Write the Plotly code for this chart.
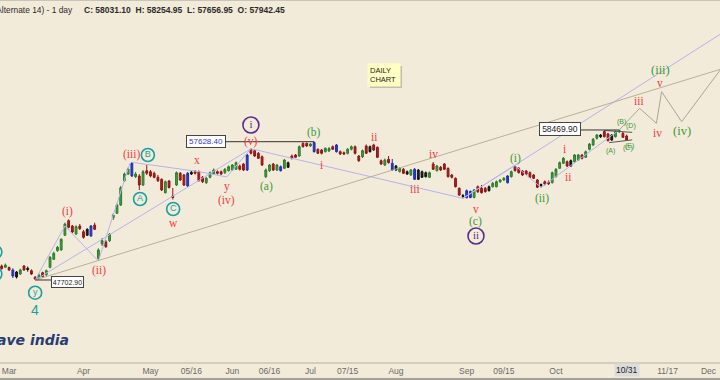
import plotly.graph_objects as go

# ---------------- data ----------------
opens = [48707, 48614, 48600, 48420, 48277, 48133, 48707, 48543, 48370, 47896,
         47825, 48226, 48083, 48614, 49188, 49806, 49856, 50911, 51958, 51578,
         51004, 51578, 51169, 50911, 50860, 51650, 49260, 50286, 50430, 50523,
         52173, 52489, 53085, 54829, 55310, 55166, 55116, 55166, 54520, 55547,
         55475, 55360, 55073, 54929, 53968, 54808, 53731, 54520, 55360, 55238,
         54448, 55432, 55475, 55475, 55073, 54686, 55073, 55310, 55475, 55475,
         55403, 55547, 55597, 55647, 55884, 56028, 55597, 57083, 56982, 56796,
         56552, 55116, 55547, 56028, 55597, 55834, 55719, 56121, 56602, 56674,
         56602, 57513, 57513, 57320, 57571, 57083, 57032, 56910, 56961, 57270,
         57392, 56910, 56839, 56796, 57083, 57270, 56602, 56552, 57320, 57270,
         57392, 57226, 56265, 55956, 56365, 56078, 55884, 55475, 55647, 55475,
         55238, 55647, 55597, 55475, 55403, 55073, 56028, 55547, 55791, 56028,
         55719, 55238, 55001, 54284, 53767, 53600, 54054, 53623, 54398, 54284,
         54284, 54112, 54398, 54398, 54757, 54879, 54686, 55116, 55834, 55719,
         55525, 55525, 55403, 55238, 54879, 54556, 54757, 54720, 54686, 55116,
         55719, 56078, 56193, 55884, 56193, 56315, 56674, 56509, 57083, 57392,
         57872, 58109, 58360, 58181, 57750, 57987, 58346, 58231, 58037]
highs = [48815, 48887, 48671, 48543, 48348, 48513, 48779, 48664, 48470, 47989,
         48183, 48298, 48456, 49425, 49733, 50143, 50695, 51815, 52059, 51650,
         51628, 51722, 51291, 51413, 51650, 51815, 49978, 50717, 50573, 51076,
         52475, 53193, 54449, 55418, 55777, 56150, 55454, 55310, 55597, 55956,
         55597, 55475, 55238, 55001, 54843, 54879, 54305, 55490, 55454, 55310,
         55454, 55525, 55597, 55561, 55166, 55095, 55490, 55705, 55561, 55561,
         55741, 55920, 56028, 56207, 55992, 56100, 56745, 57126, 57032, 56889,
         56638, 55705, 56028, 56100, 56028, 55920, 56387, 56207, 56710, 56745,
         57356, 57571, 57571, 57535, 57628.40, 57140, 57104, 57212, 57248, 57356,
         57463, 56997, 56925, 57176, 57356, 57356, 56674, 57068, 57427, 57356,
         57478, 57284, 56351, 56422, 56602, 56387, 55956, 55812, 55741, 55561,
         55669, 55741, 55669, 55561, 55490, 55490, 56171, 55956, 55884, 56100,
         55777, 55310, 55059, 54341, 53875, 54198, 54126, 54234, 54485, 54520,
         54377, 54485, 54736, 54843, 54951, 55095, 55238, 55561, 55920, 55812,
         55597, 55597, 55490, 55310, 54951, 54628, 54843, 54843, 55490, 55741,
         56207, 56530, 56279, 56351, 56745, 56745, 56745, 56997, 57535, 57894,
         58181, 58181, 58432, 58253, 58181, 58432, 58469.90, 58325, 58145]
lows = [48456, 48564, 48348, 47846, 47810, 48061, 48370, 48298, 48061, 47702.90,
        47753, 47896, 47989, 48543, 49138, 49733, 49806, 50860, 51413, 51054,
        50932, 51291, 50667, 50860, 50810, 51291, 49066, 50143, 50000, 50430,
        52009, 52439, 53013, 54736, 55238, 55095, 55023, 54162, 54448, 55238,
        55073, 55001, 54736, 54090, 53910, 54269, 53480, 54448, 54808, 54448,
        54377, 55238, 55274, 54772, 54664, 54592, 55001, 55238, 55274, 55238,
        55310, 55490, 55525, 55597, 55561, 55525, 55525, 56710, 56530, 56387,
        55884, 55023, 55454, 55525, 55525, 55490, 55669, 55741, 56351, 56459,
        56530, 57212, 57248, 57248, 56853, 56746, 56710, 56853, 56889, 57032,
        56853, 56674, 56674, 56710, 56997, 56710, 56171, 56458, 56746, 56853,
        56961, 56458, 55956, 55884, 56064, 55525, 55525, 55418, 55310, 55238,
        55166, 54879, 54879, 55023, 55059, 55023, 55597, 55490, 55525, 55597,
        55059, 54987, 54341, 53731, 53552, 53580, 53573, 53566, 53947, 53910,
        53982, 54054, 54341, 54341, 54664, 54808, 54628, 55059, 55490, 55346,
        55166, 55238, 55023, 54949, 54305, 54341, 54485, 54520, 54628, 55059,
        55669, 56028, 55812, 55812, 56135, 56243, 56351, 56458, 56997, 57320,
        57786, 57894, 57930, 57642, 57678, 57930, 58253, 57894, 57678]
closes = [48513, 48779, 48420, 47989, 47918, 48420, 48420, 48456, 48133, 47774,
          48061, 47939, 48370, 49331, 49619, 50050, 50623, 51722, 51485, 51148,
          51528, 51384, 50767, 51341, 51578, 51341, 49856, 50523, 50092, 50982,
          52367, 53085, 54327, 55310, 55669, 56078, 55310, 54520, 55475, 55360,
          55166, 55073, 54829, 54162, 54757, 54341, 53623, 55403, 54879, 54520,
          55360, 55310, 55360, 54829, 54757, 55001, 55403, 55597, 55360, 55310,
          55647, 55834, 55956, 56121, 55647, 55597, 56674, 56796, 56602, 56437,
          55956, 55597, 55956, 55597, 55956, 55547, 56315, 55791, 56437, 56509,
          57270, 57270, 57320, 57463, 56910, 56796, 56796, 57155, 57140, 57083,
          56910, 56745, 56745, 57083, 57270, 56796, 56265, 56982, 56796, 56910,
          57032, 56509, 56028, 56315, 56121, 55597, 55597, 55719, 55360, 55310,
          55597, 54929, 54929, 55073, 55116, 55403, 55647, 55884, 55597, 55647,
          55116, 55073, 54399, 53803, 53695, 54112, 53623, 54162, 54040, 53968,
          54040, 54398, 54642, 54757, 54879, 55001, 55166, 55475, 55547, 55403,
          55238, 55288, 55073, 55001, 54355, 54485, 54592, 54600, 55403, 55647,
          56121, 56437, 55884, 56265, 56674, 56674, 56437, 56910, 57463, 57801,
          58109, 57987, 57987, 57700, 58109, 58346, 58432, 57944, 57750]
day_index = list(range(len(opens)))

# candles drawn in blue / black in the picture
blue_days = [3, 24, 35, 50, 66, 75, 84, 90, 105, 111, 125, 126, 136]
black_days = [4, 7, 23, 51, 77, 99, 106, 109, 112, 113, 114, 124, 131, 145, 153, 161, 164]

tick_pos = [2, 22, 40, 51, 62, 72, 83, 93, 106, 125, 135, 149, 168, 179, 190]
tick_labels = ["Mar", "Apr", "May", "05/16", "Jun", "06/16", "Jul", "07/15",
               "Aug", "Sep", "09/15", "Oct", "10/31", "11/17", "Dec"]
current_label = "10/31"

header_name = "Bank Nifty (Alternate 14) - 1 day"
header_ohlc = "C: 58031.10&nbsp;&nbsp;H: 58254.95&nbsp;&nbsp;L: 57656.95&nbsp;&nbsp;O: 57942.45"

low_price, low_day = 47702.90, 9
june_high, june_day = 57628.40, 84
oct_high, oct_day = 58469.90, 166

# wave connection lines (day index, price)
wave_lines = [
    ([9, 17, 26, 34.5], [47702.9, 51580, 49066, 56100]),
    ([35, 52.5], [56150, 55500]),
    ([52.5, 60.5, 67], [55500, 55100, 57126]),
    ([9, 67], [47702.9, 57126]),
    ([67, 124], [57126, 53566]),
    ([124, 138, 145], [53566, 55920, 54341]),
    ([145, 166], [54341, 58469.9]),
    ([124, 193.5], [53566, 65400]),
]
trend_line = ([9, 193.5], [47702.9, 62850])
projection = ([166, 171.5, 176, 177.4, 182.8, 193.5], [58470, 60024, 58948, 61217, 59064, 62896])
triangle_upper = ([162, 169.5], [58432, 58300])
triangle_lower = ([163.3, 169.5], [57560, 57760])

# wave labels: text, day, price
red_labels = [("(i)", 17.8, 52583), ("(ii)", 26.2, 48420), ("(iii)", 34.8, 56674),
              ("w", 46.1, 51793), ("x", 52.5, 56315), ("y", 60.5, 54398),
              ("(iv)", 60.5, 53444), ("(v)", 67, 57628), ("i", 86, 55956),
              ("ii", 100.2, 57944), ("iii", 111.1, 54212), ("iv", 116, 56746),
              ("v", 127.5, 52834), ("i", 151.2, 57104), ("ii", 152.2, 55116),
              ("iii", 171.3, 60549), ("v", 177, 61862), ("iv", 176.3, 58231)]
green_labels = [("(b)", 84, 58274), ("(a)", 71.1, 54398), ("(c)", 127.5, 51937),
                ("(i)", 138.2, 56437), ("(ii)", 145.2, 53516)]
green_big_labels = [("(iii)", 177, 62774), ("(iv)", 182.8, 58396)]
small_labels = [("(A)", 163.7, 56961), ("(B)", 166.5, 59020), ("(D)", 169.2, 58755),
                ("(C)", 168.4, 57198), ("(E)", 168.8, 57300)]
teal_circles = [("A", 37.2, 53516), ("B", 39.3, 56674), ("C", 46.1, 52798), ("y", 9, 46791)]
teal_edge_circles = [(-1.7, 49712), (-1.7, 48133)]
purple_circles = [("i", 67, 58827), ("ii", 127.5, 50860)]
degree_label = ("4", 9, 45549)

# ---------------- styling ----------------
BG = "#f3ebd9"
RED = "#f23a45"
GREEN = "#3a9a3a"
TEAL = "#1a9f9f"
PURPLE = "#5b2c8c"
LAV = "#b4b4ee"
SERIF = "Liberation Serif"
SANS = "Liberation Sans"

fig = go.Figure()


def pick(arr, ids):
    return [arr[i] for i in ids]


special = set(blue_days) | set(black_days)
main_days = [i for i in day_index if i not in special]

# lines (drawn below candles)
for xs, ys in wave_lines:
    fig.add_trace(go.Scatter(x=xs, y=ys, mode="lines", line=dict(color=LAV, width=1),
                             hoverinfo="skip"))
fig.add_trace(go.Scatter(x=trend_line[0], y=trend_line[1], mode="lines",
                         line=dict(color="#b9af9d", width=1), hoverinfo="skip"))
fig.add_trace(go.Scatter(x=projection[0], y=projection[1], mode="lines",
                         line=dict(color="#a9a49b", width=1), hoverinfo="skip"))
for xs, ys in (triangle_upper, triangle_lower):
    fig.add_trace(go.Scatter(x=xs, y=ys, mode="lines", line=dict(color="#555555", width=1),
                             hoverinfo="skip"))

# horizontal price-label connectors
fig.add_trace(go.Scatter(x=[60.3, june_day], y=[june_high, june_high], mode="lines",
                         line=dict(color="#333333", width=1), hoverinfo="skip"))
fig.add_trace(go.Scatter(x=[155.7, oct_day], y=[oct_high, oct_high], mode="lines",
                         line=dict(color="#333333", width=1), hoverinfo="skip"))
fig.add_trace(go.Scatter(x=[low_day, 13.3], y=[low_price, low_price], mode="lines",
                         line=dict(color="#333333", width=1), hoverinfo="skip"))

# candles
fig.add_trace(go.Candlestick(
    x=main_days, open=pick(opens, main_days), high=pick(highs, main_days),
    low=pick(lows, main_days), close=pick(closes, main_days),
    increasing=dict(line=dict(color="#2c7a2c", width=1), fillcolor="#3fa33f"),
    decreasing=dict(line=dict(color="#8e1616", width=1), fillcolor="#b31f1f"),
    whiskerwidth=0, hoverinfo="skip"))
fig.add_trace(go.Candlestick(
    x=blue_days, open=pick(opens, blue_days), high=pick(highs, blue_days),
    low=pick(lows, blue_days), close=pick(closes, blue_days),
    increasing=dict(line=dict(color="#1f2fb0", width=1), fillcolor="#2b3bd0"),
    decreasing=dict(line=dict(color="#1f2fb0", width=1), fillcolor="#2b3bd0"),
    whiskerwidth=0, hoverinfo="skip"))
fig.add_trace(go.Candlestick(
    x=black_days, open=pick(opens, black_days), high=pick(highs, black_days),
    low=pick(lows, black_days), close=pick(closes, black_days),
    increasing=dict(line=dict(color="#111111", width=1), fillcolor="#222222"),
    decreasing=dict(line=dict(color="#111111", width=1), fillcolor="#222222"),
    whiskerwidth=0, hoverinfo="skip"))

# circled labels
fig.add_trace(go.Scatter(
    x=[c[1] for c in teal_circles], y=[c[2] for c in teal_circles],
    text=[c[0] for c in teal_circles], mode="markers+text", textposition="middle center",
    textfont=dict(family=SANS, size=9, color=TEAL),
    marker=dict(symbol="circle-open", size=13, color=TEAL, line=dict(width=1.6, color=TEAL)),
    hoverinfo="skip"))
fig.add_trace(go.Scatter(
    x=[c[0] for c in teal_edge_circles], y=[c[1] for c in teal_edge_circles],
    mode="markers", marker=dict(symbol="circle-open", size=13, color=TEAL,
                                line=dict(width=1.6, color=TEAL)), hoverinfo="skip"))
fig.add_trace(go.Scatter(
    x=[c[1] for c in purple_circles], y=[c[2] for c in purple_circles],
    text=[c[0] for c in purple_circles], mode="markers+text", textposition="middle center",
    textfont=dict(family=SERIF, size=11, color=PURPLE),
    marker=dict(symbol="circle-open", size=16, color=PURPLE, line=dict(width=1.6, color=PURPLE)),
    hoverinfo="skip"))

# text labels
for t, xd, yp in red_labels:
    fig.add_annotation(x=xd, y=yp, text=t, showarrow=False,
                       font=dict(family=SERIF, size=11.5, color=RED))
for t, xd, yp in green_labels:
    fig.add_annotation(x=xd, y=yp, text=t, showarrow=False,
                       font=dict(family=SERIF, size=11.5, color=GREEN))
for t, xd, yp in green_big_labels:
    fig.add_annotation(x=xd, y=yp, text=t, showarrow=False,
                       font=dict(family=SERIF, size=12.5, color=GREEN))
for t, xd, yp in small_labels:
    fig.add_annotation(x=xd, y=yp, text=t, showarrow=False,
                       font=dict(family=SANS, size=7, color=GREEN))
fig.add_annotation(x=degree_label[1], y=degree_label[2], text=degree_label[0], showarrow=False,
                   font=dict(family=SANS, size=14, color=TEAL))

# price boxes
fig.add_annotation(x=54.9, y=june_high, text=f"{june_high:.2f}", showarrow=False,
                   font=dict(family=SANS, size=8, color="#3434d8"), bgcolor="white",
                   bordercolor="#444444", borderwidth=1, borderpad=1, width=36, height=9)
fig.add_annotation(x=150.1, y=oct_high + 35, text=f"{oct_high:.2f}", showarrow=False,
                   font=dict(family=SANS, size=8.5, color="#222222"), bgcolor="white",
                   bordercolor="#444444", borderwidth=1, borderpad=1, width=38, height=10)
fig.add_annotation(x=17.7, y=low_price - 120, text=f"{low_price:.2f}", showarrow=False,
                   font=dict(family=SANS, size=7, color="#222222"), bgcolor="white",
                   bordercolor="#444444", borderwidth=1, borderpad=1, width=29, height=8)

# DAILY CHART note with shadow
fig.add_shape(type="rect", xref="paper", yref="paper",
              x0=370 / 720, x1=402 / 720, y0=1 - 88 / 362, y1=1 - 66 / 362,
              fillcolor="#c4bcae", line=dict(width=0), layer="above")
fig.add_annotation(xref="paper", yref="paper", x=367 / 720, y=1 - 63 / 362,
                   xanchor="left", yanchor="top", text="DAILY<br>CHART", align="left",
                   showarrow=False, font=dict(family=SANS, size=7.5, color="#222222"),
                   bgcolor="#ffffc2", borderpad=2, width=28, height=18)

# header
fig.add_annotation(xref="paper", yref="paper", x=75 / 720, y=1 - 10 / 362,
                   xanchor="right", yanchor="middle", text=header_name, showarrow=False,
                   font=dict(family=SANS, size=8.4, color="#2a2a2a"))
fig.add_annotation(xref="paper", yref="paper", x=82 / 720, y=1 - 10 / 362,
                   xanchor="left", yanchor="middle", text="<b>" + header_ohlc + "</b>",
                   showarrow=False, font=dict(family=SANS, size=8.5, color="#2a2a2a"))

# logo
fig.add_annotation(xref="paper", yref="paper", x=71 / 720, y=1 - 340 / 362,
                   xanchor="right", yanchor="middle", text="<b><i>wave india</i></b>",
                   showarrow=False, font=dict(family="DejaVu Sans", size=14, color="#283c72"))

# current date label highlighted
cur_pos = tick_pos[tick_labels.index(current_label)]
fig.add_annotation(x=cur_pos, xref="x", yref="paper", y=-8 / 362, yanchor="middle",
                   text=current_label, showarrow=False, bgcolor="#dcdcdc", borderpad=1,
                   font=dict(family=SANS, size=8.5, color="#222222"))

# frame lines
fig.add_shape(type="line", xref="paper", yref="paper", x0=0, x1=1, y0=1 - 0.5 / 362,
              y1=1 - 0.5 / 362, line=dict(color="#c9c4ba", width=1))
fig.add_shape(type="line", xref="paper", yref="paper", x0=0, x1=1, y0=-17 / 362,
              y1=-17 / 362, line=dict(color="#8c8a86", width=1.5))

fig.update_layout(
    width=720, height=380, margin=dict(l=0, r=0, t=0, b=18),
    paper_bgcolor=BG, plot_bgcolor=BG, showlegend=False, hovermode=False,
    xaxis=dict(range=[-0.45, 193.1], showgrid=False, zeroline=False,
               tickvals=tick_pos,
               ticktext=[t if t != current_label else "" for t in tick_labels],
               ticks="", tickfont=dict(family=SANS, size=8.5, color="#6a6a6a"),
               showline=True, linecolor="#d3ccbf", linewidth=2,
               rangeslider=dict(visible=False)),
    yaxis=dict(range=[41817, 67798], visible=False, showgrid=False, zeroline=False),
)

fig.write_html("out.html", config={"displayModeBar": False},
               post_script="document.body.style.margin='0';document.body.style.background='" + BG + "';")
